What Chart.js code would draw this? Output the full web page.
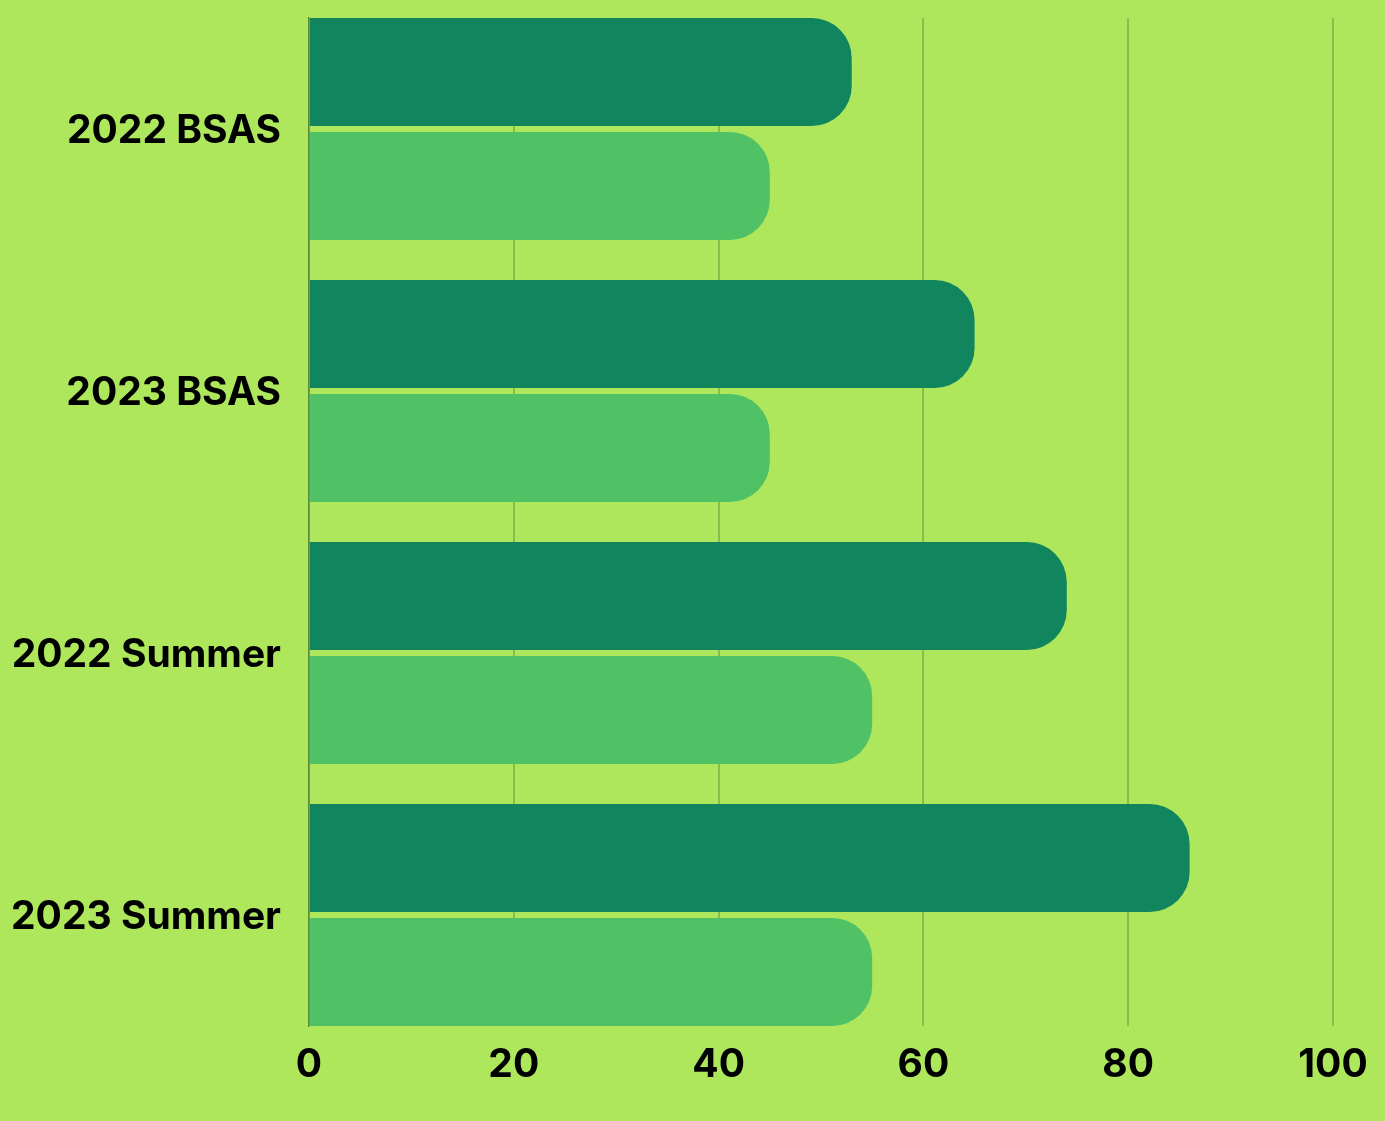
<!DOCTYPE html>
<html>
<head>
<meta charset="utf-8">
<script src="https://cdn.jsdelivr.net/npm/chart.js@4/dist/chart.umd.min.js"></script>
<style>
  html, body { margin: 0; padding: 0; background: #aee75c; }
  #wrap { width: 1385px; height: 1121px; }
</style>
</head>
<body>
<div id="wrap"><canvas id="chart" width="1385" height="1121"></canvas></div>
<script>
const categories = ['2022 BSAS', '2023 BSAS', '2022 Summer', '2023 Summer'];
const darkValues = [53, 65, 74, 86];
const lightValues = [45, 45, 55, 55];
const xTicks = [0, 20, 40, 60, 80, 100];

// 类目位置: 0,1,2,3 放在线性轴上, 让柱子贴住绘图区上下边缘
const CAT_PCT = 228 / 262;
const BAR_PCT = 108 / 114;
const edge = 111 / 262;

const font = { family: "Inter, sans-serif", weight: '700', size: 39 };

function toPoints(values) {
  return values.map((v, i) => ({ x: v, y: i }));
}

new Chart(document.getElementById('chart').getContext('2d'), {
  type: 'bar',
  data: {
    datasets: [
      {
        label: 'Series 1',
        data: toPoints(darkValues),
        backgroundColor: '#11865e',
        borderRadius: 40,
        categoryPercentage: CAT_PCT,
        barPercentage: BAR_PCT
      },
      {
        label: 'Series 2',
        data: toPoints(lightValues),
        backgroundColor: '#50c165',
        borderRadius: 40,
        categoryPercentage: CAT_PCT,
        barPercentage: BAR_PCT
      }
    ]
  },
  options: {
    indexAxis: 'y',
    responsive: false,
    animation: false,
    layout: { padding: { top: 18, right: 52, left: 0, bottom: 0 } },
    plugins: {
      legend: { display: false },
      tooltip: { enabled: false }
    },
    scales: {
      x: {
        type: 'linear',
        min: xTicks[0],
        max: xTicks[xTicks.length - 1],
        afterBuildTicks: s => { s.ticks = xTicks.map(v => ({ value: v })); },
        afterFit: s => { s.height = 95; },
        grid: { color: '#88bd4b', lineWidth: 2, drawTicks: false },
        border: { display: false },
        ticks: { color: '#000', font: font, padding: 16 }
      },
      y: {
        type: 'linear',
        reverse: true,
        offset: false,
        bounds: 'data',
        min: -edge,
        max: categories.length - 1 + edge,
        afterBuildTicks: s => { s.ticks = categories.map((_, i) => ({ value: i })); },
        afterFit: s => { s.width = 309; s.paddingTop = 0; s.paddingBottom = 0; },
        grid: { display: false, drawTicks: false, offset: false },
        border: { display: true, color: '#5e8a34', width: 1.5, z: 1 },
        ticks: {
          color: '#000',
          font: font,
          padding: 28,
          labelOffset: 2,
          callback: v => categories[v]
        }
      }
    }
  }
});
</script>
</body>
</html>
